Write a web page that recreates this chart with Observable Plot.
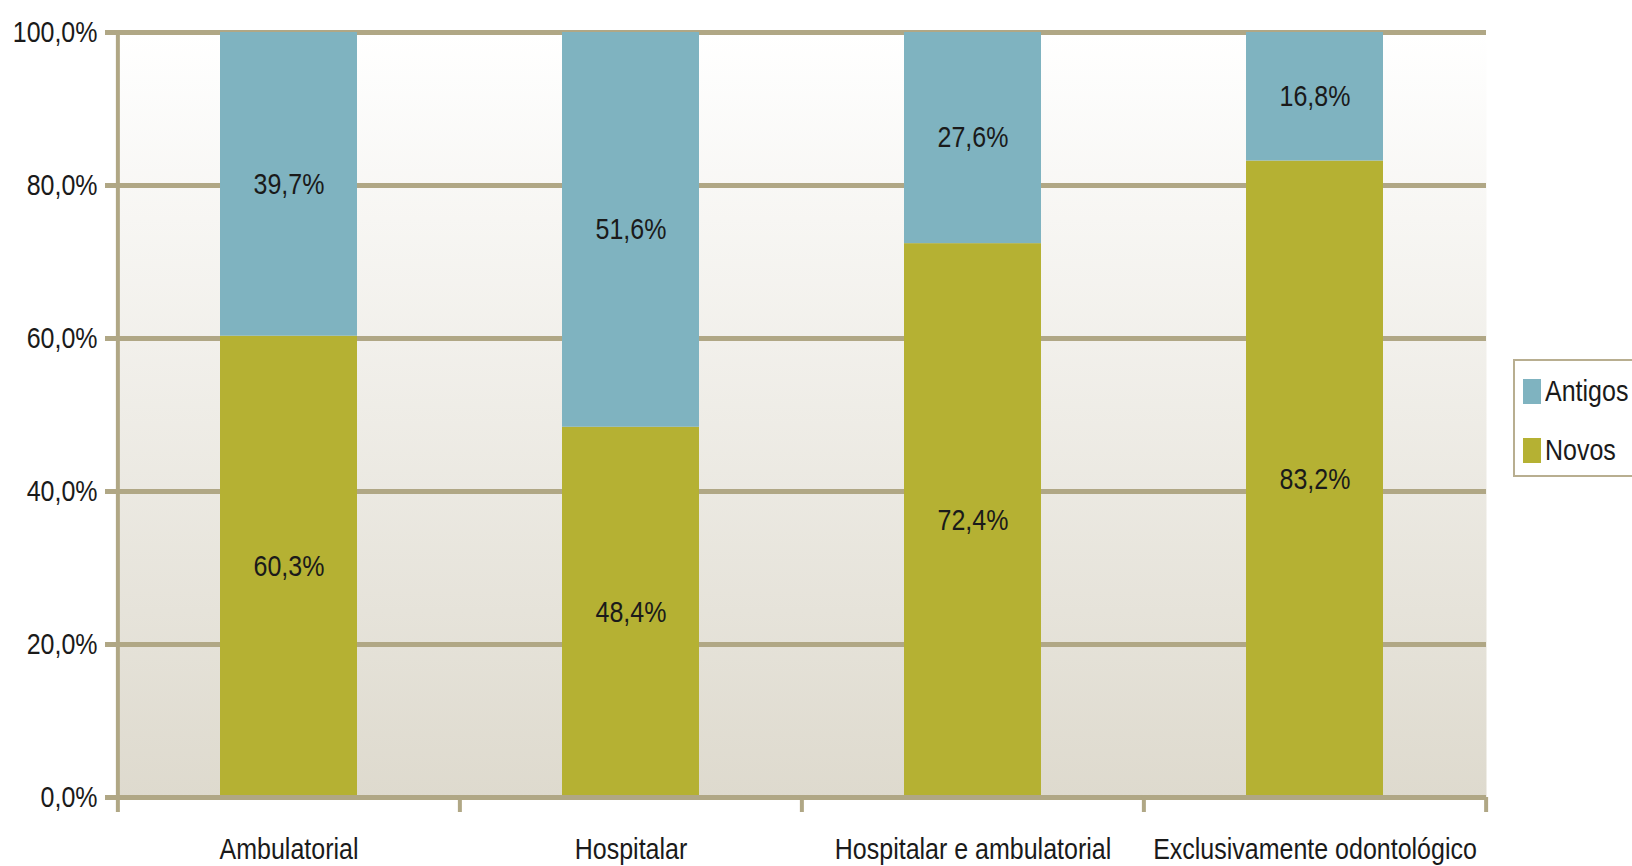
<!DOCTYPE html>
<html><head><meta charset="utf-8">
<script src="https://cdn.jsdelivr.net/npm/d3@7"></script>
<script src="https://cdn.jsdelivr.net/npm/@observablehq/plot@0.6"></script>
<style>
body{margin:0;background:#fff;}
#wrap{position:relative;width:1632px;height:866px;overflow:hidden;}
.legend{position:absolute;left:1513px;top:359px;width:140px;height:118px;border:2px solid #b8ae90;background:#fff;box-sizing:border-box;color:#1a1a1a;}
.legend .item{position:absolute;left:8px;display:flex;align-items:center;}
.legend .sw{width:18px;height:25px;margin-right:4px;}
.legend .lbl{display:inline-block;transform:scaleY(1.16);}
</style></head>
<body><div id="wrap"></div>
<script>
const categories = ["Ambulatorial", "Hospitalar", "Hospitalar e ambulatorial", "Exclusivamente odontológico"];
const seriesNames = ["Novos", "Antigos"];
const novos = [60.3, 48.4, 72.4, 83.2];
const antigos = [39.7, 51.6, 27.6, 16.8];
const yTicks = [0, 20, 40, 60, 80, 100];
const colors = ["#b5b133", "#7fb3c0"];

const FONT = "'Liberation Sans', Arial, sans-serif";
const FS = 25;
const STRETCH = 1.16;

const data = categories.flatMap((c, i) => [
  {category: c, series: "Novos", value: novos[i]},
  {category: c, series: "Antigos", value: antigos[i]}
]);
const fmt = v => v.toFixed(1).replace(".", ",") + "%";

const W = 1632, H = 866, mL = 117, mR = 146, mT = 32, mB = 69;
const step = (W - mL - mR) / categories.length;
const grid = "#b0a785";
const txt = "#1a1a1a";

const plot = Plot.plot({
  width: W, height: H, marginLeft: mL, marginRight: mR, marginTop: mT, marginBottom: mB,
  style: {fontFamily: FONT, fontSize: FS + "px", color: txt, background: "transparent", overflow: "visible"},
  x: {domain: categories, paddingInner: 0.6, paddingOuter: 0.3, label: null},
  y: {domain: [0, 100], label: null},
  color: {domain: seriesNames, range: colors},
  marks: [
    Plot.frame({fill: "url(#bggrad)", stroke: null}),
    Plot.ruleY(yTicks, {stroke: grid, strokeWidth: 5}),
    Plot.barY(data, Plot.stackY({x: "category", y: "value", fill: "series", order: seriesNames})),
    Plot.text(data, Plot.stackY({x: "category", y: "value", z: "series", order: seriesNames,
      text: d => fmt(d.value), fill: txt, fontSize: FS})),
    Plot.ruleY([0], {stroke: grid, strokeWidth: 5}),
    Plot.ruleX([categories[0]], {x: d => d, dx: -step / 2, y1: 100, y2: 0, insetBottom: -15, stroke: grid, strokeWidth: 4}),
    Plot.ruleX(categories.slice(1), {x: d => d, dx: -step / 2, y1: 0, y2: 0, insetBottom: -15, stroke: grid, strokeWidth: 4}),
    Plot.ruleX([categories[categories.length - 1]], {x: d => d, dx: step / 2, y1: 0, y2: 0, insetBottom: -15, stroke: grid, strokeWidth: 4}),
    Plot.axisY({ticks: yTicks, tickFormat: fmt, tickSize: 12, tickPadding: 8, stroke: grid, strokeWidth: 5, fill: txt, fontSize: FS}),
    Plot.axisX({tickSize: 0, tickPadding: 41, fill: txt, fontSize: FS, label: null})
  ]
});

d3.select(plot).insert("defs", ":first-child").html(
  `<linearGradient id="bggrad" x1="0" y1="0" x2="0" y2="1">
     <stop offset="0%" stop-color="#ffffff"/>
     <stop offset="100%" stop-color="#dedace"/>
   </linearGradient>`);

// the reference typeface is taller than it is wide: stretch each label vertically about its anchor
d3.select(plot).selectAll("text").each(function() {
  const t = this.getAttribute("transform") || "";
  if (t) this.setAttribute("transform", t + ` scale(1,${STRETCH})`);
  else {
    const x = +(this.getAttribute("x") || 0), y = +(this.getAttribute("y") || 0);
    this.setAttribute("transform", `translate(${x},${y}) scale(1,${STRETCH}) translate(${-x},${-y})`);
  }
});

const wrap = document.getElementById("wrap");
wrap.appendChild(plot);

const leg = document.createElement("div");
leg.className = "legend";
leg.style.fontFamily = FONT;
leg.style.fontSize = FS + "px";
const items = [["Antigos", colors[1], 16], ["Novos", colors[0], 75]];
for (const [name, col, top] of items) {
  const it = document.createElement("div");
  it.className = "item";
  it.style.top = top + "px";
  const sw = document.createElement("div");
  sw.className = "sw"; sw.style.background = col;
  const t = document.createElement("span");
  t.className = "lbl";
  t.textContent = name;
  it.appendChild(sw); it.appendChild(t);
  leg.appendChild(it);
}
wrap.appendChild(leg);
</script>
</body></html>
